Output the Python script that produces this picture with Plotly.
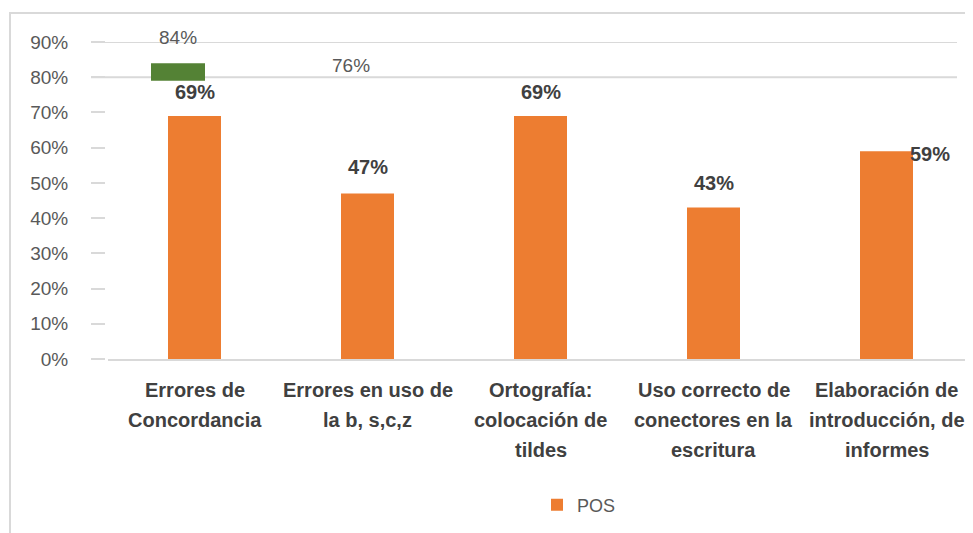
"""Bar chart: POS results by writing-error category (with the clipped PRE strip)."""

import plotly.graph_objects as go

W, H = 973, 533
PAGE_OFFSET = 8  # the page body margin shifts the figure by this many px


def fx(px):
    """Screen x pixel -> paper x."""
    return (px - PAGE_OFFSET) / W


def fy(px):
    """Screen y pixel -> paper y."""
    return 1 - (px - PAGE_OFFSET) / H


category_lines = [
    ["Errores de", "Concordancia"],
    ["Errores en uso de", "la b, s,c,z"],
    ["Ortografía:", "colocación de", "tildes"],
    ["Uso correcto de", "conectores en la", "escritura"],
    ["Elaboración de", "introducción, de", "informes"],
]
categories = [" ".join(lines) for lines in category_lines]
pos_values = [0.69, 0.47, 0.69, 0.43, 0.59]
pre_values = [0.84, 0.76]
pre_labels = ["84%", "76%"]
pos_labels = ["69%", "47%", "69%", "43%", "59%"]
y_ticks = [0, 0.1, 0.2, 0.3, 0.4, 0.5, 0.6, 0.7, 0.8, 0.9]

# level below which the PRE series is hidden by the pasted overlay
MASK_LEVEL = 0.79

ORANGE = "#ed7d31"
GREEN = "#548235"
GRID = "#d9d9d9"
AXIS_TEXT = "#595959"
LABEL_TEXT = "#404040"
FONT = "Liberation Sans"

BAR_W = 53 / 173
# label offsets (px) as placed in the original chart
pos_label_dx = [0, 0, 0, 0, 43]
pos_label_dy = [24, 26, 24, 25, -3]

fig = go.Figure()

fig.add_trace(
    go.Bar(
        x=categories[: len(pre_values)],
        y=[max(v - MASK_LEVEL, 0) for v in pre_values],
        base=[MASK_LEVEL] * len(pre_values),
        width=54 / 173,
        offset=-(16.5 + 27) / 173,
        marker=dict(color=GREEN, line=dict(width=0)),
        name="PRE",
        showlegend=False,
        hoverinfo="skip",
    )
)

fig.add_trace(
    go.Bar(
        x=categories,
        y=pos_values,
        width=BAR_W,
        marker=dict(color=ORANGE, line=dict(width=0)),
        name="POS",
    )
)

annotations = []
for cat, val, lab, dx, dy in zip(
    categories, pos_values, pos_labels, pos_label_dx, pos_label_dy
):
    annotations.append(
        dict(
            x=cat, y=val, text=f"<b>{lab}</b>", showarrow=False,
            yshift=dy, xshift=dx, yanchor="middle",
            font=dict(family=FONT, size=20, color=LABEL_TEXT),
        )
    )
for cat, val, lab in zip(categories, pre_values, pre_labels):
    annotations.append(
        dict(
            x=cat, y=val, text=lab, showarrow=False,
            yshift=26, xshift=-16.5, yanchor="middle",
            font=dict(family=FONT, size=19, color=AXIS_TEXT),
        )
    )
# category labels, one annotation per line (Excel-like line spacing)
for cat, lines in zip(categories, category_lines):
    for i, line in enumerate(lines):
        annotations.append(
            dict(
                x=cat, xref="x", y=fy(390 + 30 * i), yref="paper",
                text=f"<b>{line}</b>", showarrow=False, yanchor="middle",
                font=dict(family=FONT, size=20, color=LABEL_TEXT),
            )
        )

shapes = [
    # chart border (top and left edges visible)
    dict(type="rect", xref="paper", yref="paper",
         x0=fx(10), x1=1.01, y0=-0.01, y1=fy(13),
         line=dict(color=GRID, width=2), layer="below"),
]
for level in (0.8, 0.9):
    shapes.append(
        dict(type="line", xref="paper", yref="y",
             x0=fx(91), x1=fx(957), y0=level, y1=level,
             line=dict(color=GRID, width=2), layer="below")
    )

fig.update_layout(
    width=W,
    height=H,
    margin=dict(l=0, r=0, t=0, b=0, pad=0, autoexpand=False),
    paper_bgcolor="white",
    plot_bgcolor="rgba(0,0,0,0)",
    barmode="overlay",
    font=dict(family=FONT, color=AXIS_TEXT),
    xaxis=dict(
        domain=[fx(108), fx(973)],
        range=[-0.5, 4.5],
        automargin=False,
        showgrid=False,
        showline=True,
        linecolor=GRID,
        linewidth=2,
        ticks="",
        showticklabels=False,
    ),
    yaxis=dict(
        domain=[fy(359), fy(42)],
        range=[0, 0.9],
        anchor="free",
        position=fx(105),
        automargin=False,
        tickvals=y_ticks,
        tickformat=".0%",
        showgrid=False,
        zeroline=False,
        showline=False,
        ticks="outside",
        ticklen=14,
        tickwidth=2,
        tickcolor=GRID,
        ticklabelstandoff=19,
        tickfont=dict(family=FONT, size=19, color=AXIS_TEXT),
    ),
    legend=dict(
        orientation="h",
        x=fx(537),
        y=fy(505),
        xanchor="left",
        yanchor="middle",
        font=dict(family=FONT, size=18, color=AXIS_TEXT),
        bgcolor="rgba(0,0,0,0)",
    ),
    annotations=annotations,
    shapes=shapes,
)

fig.write_html("out.html")
